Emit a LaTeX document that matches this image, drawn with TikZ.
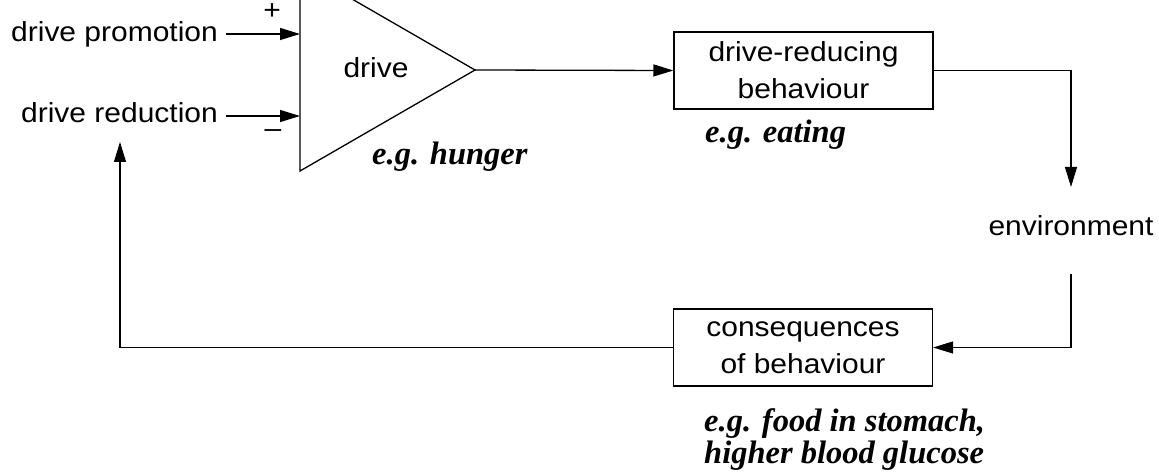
\documentclass[tikz,border=0pt]{standalone}
\usepackage{fontspec}
\setmainfont{Liberation Sans}[FakeStretch=1.09]
\newfontfamily\egfont{Liberation Serif}
\usetikzlibrary{arrows.meta}
\tikzset{
  conn/.style={line width=1.3pt, -{Triangle[length=20pt,width=12pt]}},
  plainline/.style={line width=1.3pt},
  sanstext/.style={inner sep=0pt, font=\fontsize{27.5}{37}\selectfont},
  boxnode/.style={draw, line width=1.3pt, inner sep=0pt, minimum width=259pt,
    minimum height=77pt, align=center, font=\fontsize{27.5}{37}\selectfont},
  eglabel/.style={inner sep=0pt, font=\egfont\bfseries\itshape\fontsize{32.5}{32}\selectfont},
}
\begin{document}
\begin{tikzpicture}[x=1pt,y=-1pt]
\useasboundingbox (0,0) rectangle (1159,473);
\clip (0,0) rectangle (1159,473);
\fill[white] (0,0) rectangle (1159,473);

% inputs
\node[sanstext, anchor=base east] (dp) at (218,42) {drive promotion};
\node[sanstext, anchor=base east] (dr) at (218,123) {drive reduction};
\coordinate (in1) at (300,34);
\coordinate (in2) at (300,116);
\draw[conn, shorten <=8pt] (dp.east |- in1) -- (in1);
\draw[conn, shorten <=8pt] (dr.east |- in2) -- (in2);
\node[sanstext] (plus) at (272,12) {+};
\node[sanstext] (minus) at (273,134) {–};

% drive triangle
\coordinate (apex) at (475,70);
\coordinate (ttop) at (300,-31);
\coordinate (tbot) at (300,171);
\draw[plainline, line join=miter] (ttop) -- (apex) -- (tbot) -- cycle;
\node[sanstext, anchor=base] (drv) at (376,78) {drive};
\node[eglabel, anchor=base west] (egh) at (372,165) {e.g. hunger};

% boxes
\node[boxnode] (beh) at (803.5,70.5) {drive-reducing\\behaviour};
\node[eglabel, anchor=base west] (ege) at (705,143) {e.g. eating};
\node[boxnode] (cons) at (803,347.5) {consequences\\of behaviour};
\node[eglabel, anchor=base west] (egf1) at (704,431) {e.g. food in stomach,};
\node[eglabel, anchor=base west] (egf2) at (704,463) {higher blood glucose};

% environment
\node[sanstext, anchor=base] (env) at (1071,236) {environment};
\coordinate (envin) at (1071,187);
\coordinate (envout) at (1071,274);
\coordinate (fbtip) at (120,142);

% connectors
\draw[conn] (apex) -- (beh.west);
\draw[conn] (beh.east) -| (envin);
\draw[conn] (envout) |- (cons.east);
\draw[conn] (cons.west) -| (fbtip);
\end{tikzpicture}
\end{document}
